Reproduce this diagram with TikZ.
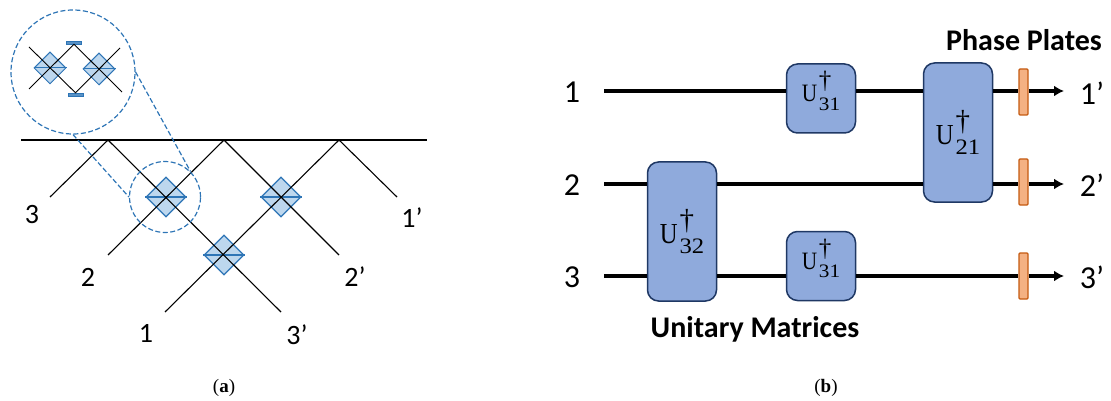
\documentclass[tikz,border=0pt]{standalone}
\usepackage{fontspec}
\setmainfont{Carlito}
\newfontfamily\capfont{Liberation Serif}
\usetikzlibrary{shapes.geometric,arrows.meta}
\newcommand{\gate}[2]{{\capfont\scalebox{.85}[1]{U}\kern.07em\rlap{\raisebox{.5em}{\textdagger}}\raisebox{-.35em}{\scalebox{.85}[.76]{#1#2}}}}
\begin{document}
\begin{tikzpicture}[
    x=1pt, y=-1pt,
    beam/.style={draw=black, line width=1.1pt},
    splitter/.style={diamond, draw=zoomblue, line width=1.1pt, fill=splitblue, inner sep=0pt, minimum width=40pt, minimum height=40pt},
    smallsplitter/.style={splitter, minimum width=32pt, minimum height=32pt, line width=1pt},
    mirror/.style={draw=zoomblue, fill=zoomblue!80, inner sep=0pt, minimum width=15pt, minimum height=3pt},
    zoomcircle/.style={circle, draw=zoomblue, line width=1.2pt, dash pattern=on 5pt off 2.5pt, inner sep=0pt},
    zoomline/.style={draw=zoomblue, line width=1.2pt, dash pattern=on 5pt off 2.5pt},
    port/.style={font=\fontsize{28}{28}\selectfont, inner sep=0pt},
    bigport/.style={font=\fontsize{32}{32}\selectfont, inner sep=0pt},
    wire/.style={draw=black, line width=3.1pt},
    unitary/.style={draw=gateedge, line width=1.5pt, fill=gateblue, rounded corners=11pt, inner sep=0pt, font=\fontsize{25}{25}\selectfont},
    plate/.style={draw=plateedge, line width=1.2pt, fill=plateorange, rounded corners=1pt, inner sep=0pt, minimum width=9pt, minimum height=46pt},
    title/.style={font=\fontsize{30}{30}\selectfont\bfseries, inner sep=0pt},
    caption/.style={font=\fontsize{19}{19}\selectfont\capfont, inner sep=0pt}
]
    \definecolor{zoomblue}{HTML}{2E75B6}
    \definecolor{splitblue}{HTML}{BDD7EE}
    \definecolor{gateblue}{HTML}{8FAADC}
    \definecolor{gateedge}{HTML}{1F3864}
    \definecolor{plateorange}{HTML}{F4B183}
    \definecolor{plateedge}{HTML}{C55A11}
    \useasboundingbox (0,0) rectangle (1111,401);

    % (a) Mesh
    \node[splitter] (bs1) at (166,197) {};
    \node[splitter] (bs2) at (281,197) {};
    \node[splitter] (bs3) at (224,255) {};
    \foreach \n in {bs1,bs2,bs3} {
        \draw[draw=zoomblue, line width=1.1pt] (\n.west) -- (\n.east);
    }
    \coordinate (wallL) at (21,140);
    \coordinate (wallR) at (427,140);
    \coordinate (top1) at (108,140);
    \coordinate (top2) at (224,140);
    \coordinate (top3) at (339,140);
    \coordinate (in1) at (165,312);
    \coordinate (in2) at (108,255);
    \coordinate (in3) at (50,197);
    \coordinate (out1) at (397,197);
    \coordinate (out2) at (339,255);
    \coordinate (out3) at (281,312);
    \draw[line width=1.6pt] (wallL) -- (wallR);
    \draw[beam] (in3) -- (top1) -- (out3);
    \draw[beam] (in2) -- (top2) -- (out2);
    \draw[beam] (in1) -- (top3) -- (out1);
    \node[port] at (32,215) {3};
    \node[port] at (88,277) {2};
    \node[port] at (146,333) {1};
    \node[port] at (412,218) {1’};
    \node[port] at (355,277) {2’};
    \node[port] at (297,335) {3’};

    % Zoomed part
    \node[zoomcircle, minimum size=71pt] (small) at (165,197) {};
    \node[zoomcircle, minimum size=124pt] (big) at (73,72) {};
    \draw[zoomline] (big.south) -- (small.west);
    \draw[zoomline] (big.east) -- (small.north east);
    \node[smallsplitter] (in1bs) at (50,68) {};
    \node[smallsplitter] (in2bs) at (99,69) {};
    \foreach \n in {in1bs,in2bs} {
        \draw[draw=zoomblue, line width=1pt] (\n.west) -- (\n.east);
    }
    \node[mirror] (m1) at (74,42.5) {};
    \node[mirror] (m2) at (75.5,94.5) {};
    \draw[beam, line width=0.9pt] (29,47) -- (m2.north) -- (120,48);
    \draw[beam, line width=0.9pt] (29,89) -- (m1.south) -- (122,92);

    % (b) Circuit
    \node[unitary, minimum width=69pt, minimum height=69pt, text depth=10pt, text height=16pt] (u31a) at (821,98.5) {\gate{3}{1}};
    \node[unitary, minimum width=69pt, minimum height=69pt, text depth=10pt, text height=16pt] (u31b) at (821,266) {\gate{3}{1}};
    \node[unitary, minimum width=69pt, minimum height=139pt, font=\fontsize{29}{29}\selectfont] (u32) at (682,231.5) {\gate{3}{2}};
    \node[unitary, minimum width=69pt, minimum height=139pt, font=\fontsize{29}{29}\selectfont] (u21) at (958,132.5) {\gate{2}{1}};
    \node[plate] (p1) at (1023.5,92) {};
    \node[plate] (p2) at (1023.5,182) {};
    \node[plate] (p3) at (1023.5,276) {};
    \node[bigport] (w1) at (572,92) {1};
    \node[bigport] (w2) at (572,185) {2};
    \node[bigport] (w3) at (572,277) {3};
    \node[bigport] (e1) at (1092,93) {1’};
    \node[bigport] (e2) at (1092,185) {2’};
    \node[bigport] (e3) at (1092,277) {3’};

    % Wires
    \coordinate (s1) at (604,91);
    \coordinate (s2) at (604,184);
    \coordinate (s3) at (604,276);
    \coordinate (t1) at (1064,91);
    \coordinate (t2) at (1064,184);
    \coordinate (t3) at (1064,276);
    \draw[wire] (s1) -- (s1 -| u31a.west);
    \draw[wire] (s1 -| u31a.east) -- (s1 -| u21.west);
    \draw[wire] (s1 -| u21.east) -- (s1 -| p1.west);
    \draw[wire, -{Latex[length=10pt,width=11pt]}] (s1 -| p1.east) -- (t1);
    \draw[wire] (s2) -- (s2 -| u32.west);
    \draw[wire] (s2 -| u32.east) -- (s2 -| u21.west);
    \draw[wire] (s2 -| u21.east) -- (s2 -| p2.west);
    \draw[wire, -{Latex[length=10pt,width=11pt]}] (s2 -| p2.east) -- (t2);
    \draw[wire] (s3) -- (s3 -| u32.west);
    \draw[wire] (s3 -| u32.east) -- (s3 -| u31b.west);
    \draw[wire] (s3 -| u31b.east) -- (s3 -| p3.west);
    \draw[wire, -{Latex[length=10pt,width=11pt]}] (s3 -| p3.east) -- (t3);

    \node[title] at (1024,40) {Phase Plates};
    \node[title] at (755,329) {Unitary Matrices};

    % Captions
    \node[caption] at (224,388) {(\textbf{a})};
    \node[caption] at (826,388) {(\textbf{b})};
\end{tikzpicture}
\end{document}
